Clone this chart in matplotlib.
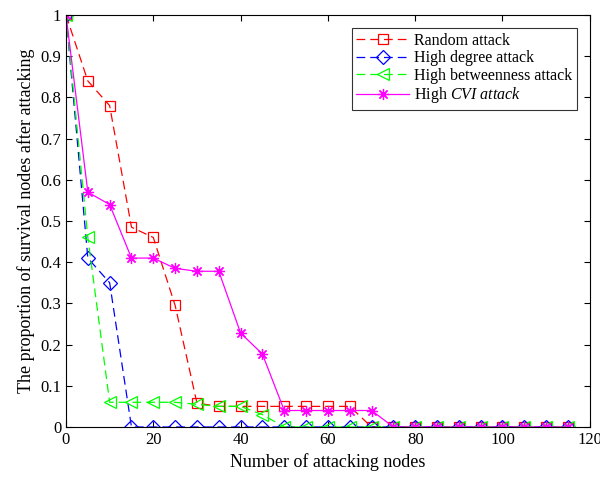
import numpy as np
import matplotlib.pyplot as plt

plt.rcParams['font.family'] = ['Liberation Serif', 'DejaVu Serif']
plt.rcParams['mathtext.fontset'] = 'custom'
plt.rcParams['mathtext.it'] = 'Liberation Serif:italic'
plt.rcParams['mathtext.rm'] = 'Liberation Serif'

x = np.arange(0, 120, 5)

random_attack = [1, 0.84, 0.78, 0.485, 0.46, 0.295, 0.058, 0.05, 0.05, 0.05, 0.05, 0.05,
                 0.05, 0.05, 0, 0, 0, 0, 0, 0, 0, 0, 0, 0]
degree_attack = [1, 0.41, 0.35, 0, 0, 0, 0, 0, 0, 0, 0, 0,
                 0, 0, 0, 0, 0, 0, 0, 0, 0, 0, 0, 0]
betweenness_attack = [1, 0.46, 0.06, 0.06, 0.06, 0.06, 0.055, 0.05, 0.05, 0.03, 0, 0,
                      0, 0, 0, 0, 0, 0, 0, 0, 0, 0, 0, 0]
cvi_attack = [1, 0.57, 0.54, 0.41, 0.41, 0.385, 0.378, 0.378, 0.228, 0.177, 0.04, 0.04,
              0.04, 0.04, 0.04, 0, 0, 0, 0, 0, 0, 0, 0, 0]

fig = plt.figure(figsize=(6, 4.79), dpi=100)
ax = fig.add_axes([0.11, 0.1086, 0.873, 0.86])

ax.plot(x, random_attack, color='red', ls='--', lw=0.9, marker='s', ms=7,
        mfc='none', mew=0.9, dashes=(7, 4), label='Random attack')
ax.plot(x, degree_attack, color='blue', ls='--', lw=0.9, marker='D', ms=7,
        mfc='none', mew=0.9, dashes=(7, 4), label='High degree attack')
ax.plot(x, betweenness_attack, color='#00ff00', ls='--', lw=0.9, marker='<', ms=8,
        mfc='none', mew=0.9, dashes=(7, 4), label='High betweenness attack')
ax.plot(x, cvi_attack, color='magenta', ls='-', lw=0.9, marker=(8, 2, 0), ms=8,
        mew=0.9, label=r'High $\mathit{CVI\ attack}$')

ax.set_xlim(0, 120)
ax.set_ylim(0, 1)
ax.set_xticks(np.arange(0, 121, 20))
ax.set_yticks(np.arange(0, 1.01, 0.1))
ax.set_yticklabels(['0', '0.1', '0.2', '0.3', '0.4', '0.5', '0.6', '0.7', '0.8', '0.9', '1'])
ax.tick_params(direction='in', top=True, right=True, labelsize=12, length=4)
ax.set_xlabel('Number of attacking nodes', fontsize=13)
ax.set_ylabel('The proportion of survival nodes after attacking', fontsize=13)

leg = ax.legend(loc='upper right', fontsize=11.5, fancybox=False, edgecolor='black',
                handlelength=3.3, handletextpad=0.3, borderaxespad=0.8, labelspacing=0.1,
                borderpad=0.3)
leg.get_frame().set_linewidth(0.8)

plt.savefig('out.png', dpi=100)
